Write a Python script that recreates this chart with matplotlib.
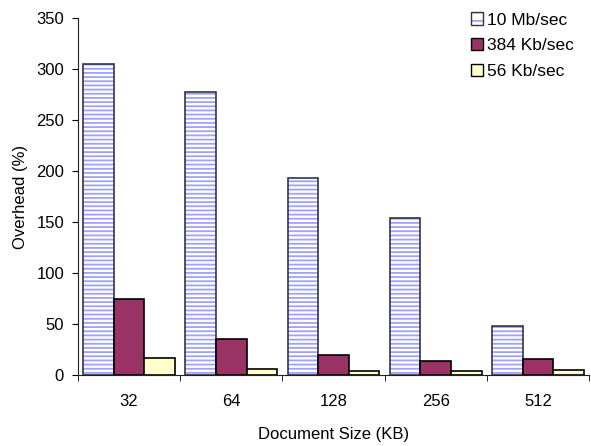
import matplotlib
matplotlib.use("Agg")
import matplotlib.pyplot as plt
from matplotlib.patches import Patch
from matplotlib.legend_handler import HandlerTuple
import numpy as np

plt.rcParams['font.family'] = ['Liberation Sans', 'DejaVu Sans']
plt.rcParams['hatch.linewidth'] = 1.3

sizes = ['32', '64', '128', '256', '512']
series_names = ['10 Mb/sec', '384 Kb/sec', '56 Kb/sec']
overhead_10mb = [305, 277, 193, 154, 48]
overhead_384kb = [75, 35, 20, 13.5, 16]
overhead_56kb = [17, 6, 3.5, 3.5, 5]

fig = plt.figure(figsize=(5.91, 4.46), dpi=100)
ax = fig.add_axes([78 / 591, 1 - 375 / 446, 511 / 591, 357 / 446])

x = np.arange(len(sizes))
w = 0.3
fs = 12
stripe = '#a0a0ff'

# striped fill for the fastest link, then a dark outline on top
ax.bar(x - w, overhead_10mb, w, facecolor='white', edgecolor=stripe,
       hatch='----', linewidth=0)
ax.bar(x - w, overhead_10mb, w, fill=False, edgecolor='#333344', linewidth=1.2)
ax.bar(x, overhead_384kb, w, facecolor='#993366', edgecolor='black',
       linewidth=1.2)
ax.bar(x + w, overhead_56kb, w, facecolor='#ffffcc', edgecolor='black',
       linewidth=1.2)

ax.set_xlim(-0.5, len(sizes) - 0.5)
ax.set_ylim(0, 350)
ax.set_yticks(np.arange(0, 351, 50))
ax.set_xticks(x)
ax.set_xticklabels(sizes)
ax.set_xticks(np.arange(-0.5, len(sizes)), minor=True)
ax.tick_params(axis='x', which='major', length=0, pad=14, labelsize=fs)
ax.tick_params(axis='x', which='minor', length=4, direction='out')
ax.tick_params(axis='y', length=4, direction='out', pad=6, labelsize=fs)

for side in ('top', 'right'):
    ax.spines[side].set_visible(False)
for side in ('left', 'bottom'):
    ax.spines[side].set_color('#222222')

ax.set_xlabel('Document Size (KB)', fontsize=fs, labelpad=12.5)
ax.set_ylabel('Overhead (%)', fontsize=fs, labelpad=6)

# legend proxies
handles = [
    (Patch(facecolor='white', edgecolor=stripe, hatch='--', linewidth=0),
     Patch(fill=False, edgecolor='#333344', linewidth=1.0)),
    Patch(facecolor='#993366', edgecolor='black', linewidth=1.0),
    Patch(facecolor='#ffffcc', edgecolor='black', linewidth=1.0),
]
ax.legend(handles, series_names, loc='upper right',
          bbox_to_anchor=(0.995, 1.05), frameon=False, fontsize=12.5,
          handlelength=0.72, handleheight=0.72, handletextpad=0.25,
          labelspacing=0.6, borderpad=0.2,
          handler_map={tuple: HandlerTuple(ndivide=1, pad=0)})

fig.savefig('out.png', dpi=100)
